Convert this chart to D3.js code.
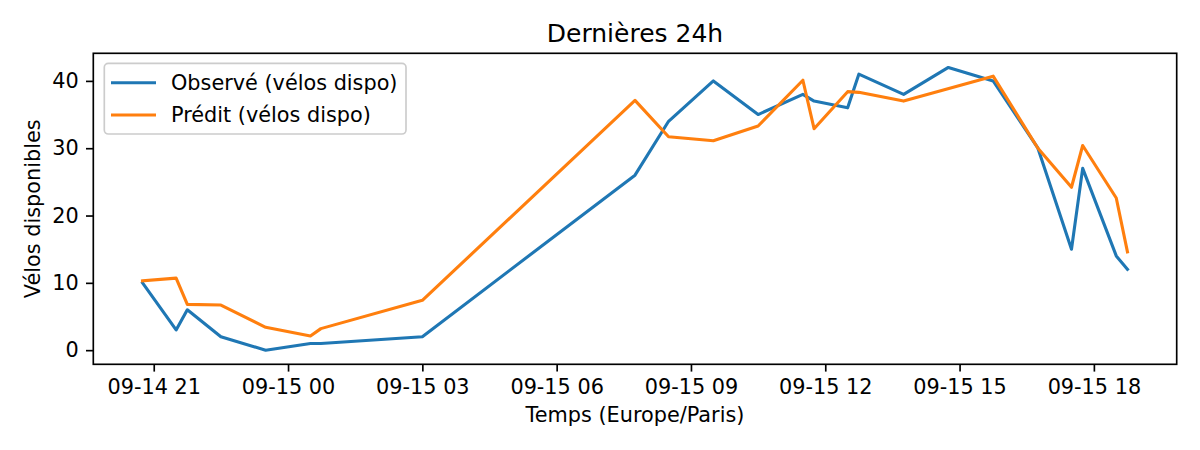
<!DOCTYPE html>
<html>
<head>
<meta charset="utf-8">
<script src="https://cdn.jsdelivr.net/npm/d3@7"></script>
<style>
  body { margin: 0; background: #fff; }
  text { font-family: "DejaVu Sans", sans-serif; fill: #000; }
</style>
</head>
<body>
<svg id="chart" width="1200" height="450"></svg>
<script>
// timestamps (Europe/Paris)
const times = ["2025-09-14 20:45","2025-09-14 21:30","2025-09-14 21:45","2025-09-14 22:30","2025-09-14 23:30",
  "2025-09-15 00:30","2025-09-15 00:44","2025-09-15 03:00","2025-09-15 07:45","2025-09-15 08:30",
  "2025-09-15 09:30","2025-09-15 10:30","2025-09-15 11:30","2025-09-15 11:45","2025-09-15 12:30",
  "2025-09-15 12:45","2025-09-15 13:45","2025-09-15 14:45","2025-09-15 15:45","2025-09-15 16:45",
  "2025-09-15 17:30","2025-09-15 17:45","2025-09-15 18:30","2025-09-15 18:45"];
const observed  = [10, 3, 6, 2, 0, 1, 1, 2, 26, 34, 40, 35, 38, 37, 36, 41, 38, 42, 40, 30, 15, 27, 14, 12];
const predicted = [10.3, 10.7, 6.8, 6.7, 3.4, 2.1, 3.2, 7.4, 37.1, 31.7, 31.1, 33.3, 40.1, 32.9, 38.4, 38.3, 37.0, null, 40.7, 30.0, 24.2, 30.4, 22.6, 14.6];
const seriesNames = ["Observé (vélos dispo)", "Prédit (vélos dispo)"];
const yTicks = [0, 10, 20, 30, 40];

const parse = d3.utcParse("%Y-%m-%d %H:%M");
const dates = times.map(parse);

const W = 1200, H = 450;
const m = { left: 93.3, right: 1176.7, top: 53.3, bottom: 364.3 };
const fs = 20.8, tick = 7.3;
const colors = ["#1f77b4", "#ff7f0e"];

const svg = d3.select("#chart");

// matplotlib-like 5% margins
const tExt = d3.extent(dates);
const tPad = (tExt[1] - tExt[0]) * 0.05;
const x = d3.scaleUtc()
  .domain([new Date(+tExt[0] - tPad), new Date(+tExt[1] + tPad)])
  .range([m.left, m.right]);

const allVals = observed.concat(predicted.filter(v => v != null));
const vExt = d3.extent(allVals);
const vPad = (vExt[1] - vExt[0]) * 0.05;
const y = d3.scaleLinear()
  .domain([vExt[0] - vPad, vExt[1] + vPad])
  .range([m.bottom, m.top]);

const series = [observed, predicted].map(vals =>
  vals.map((v, i) => ({ t: dates[i], v })).filter(d => d.v != null));

const line = d3.line().x(d => x(d.t)).y(d => y(d.v));

svg.append("g")
  .selectAll("path")
  .data(series)
  .join("path")
  .attr("fill", "none")
  .attr("stroke", (d, i) => colors[i])
  .attr("stroke-width", 3.1)
  .attr("stroke-linejoin", "round")
  .attr("stroke-linecap", "square")
  .attr("d", line);

// axes
const xTicks = d3.utcHour.every(3).range(parse("2025-09-14 21:00"), parse("2025-09-15 19:00"));
const xAxis = svg.append("g")
  .attr("transform", `translate(0,${m.bottom})`)
  .call(d3.axisBottom(x).tickValues(xTicks).tickFormat(d3.utcFormat("%m-%d %H"))
    .tickSize(tick).tickPadding(tick));
const yAxis = svg.append("g")
  .attr("transform", `translate(${m.left},0)`)
  .call(d3.axisLeft(y).tickValues(yTicks).tickSize(tick).tickPadding(tick));

[xAxis, yAxis].forEach(g => {
  g.select(".domain").remove();
  g.selectAll(".tick line").attr("stroke", "#000").attr("stroke-width", 1.67);
  g.selectAll(".tick text").attr("font-size", fs).attr("font-family", "DejaVu Sans").attr("fill", "#000");
});

// frame
svg.append("rect")
  .attr("x", m.left).attr("y", m.top)
  .attr("width", m.right - m.left).attr("height", m.bottom - m.top)
  .attr("fill", "none").attr("stroke", "#000").attr("stroke-width", 1.67);

// title and labels
svg.append("text")
  .attr("x", (m.left + m.right) / 2).attr("y", 41.7)
  .attr("text-anchor", "middle").attr("font-size", 25)
  .text("Dernières 24h");
svg.append("text")
  .attr("x", (m.left + m.right) / 2).attr("y", 421.5)
  .attr("text-anchor", "middle").attr("font-size", fs)
  .text("Temps (Europe/Paris)");
svg.append("text")
  .attr("transform", `translate(40,${(m.top + m.bottom) / 2}) rotate(-90)`)
  .attr("text-anchor", "middle").attr("font-size", fs)
  .text("Vélos disponibles");

// legend
const lg = svg.append("g");
lg.append("rect")
  .attr("x", 104.3).attr("y", 63.3).attr("width", 301.7).attr("height", 70.7)
  .attr("rx", 4).attr("fill", "#fff").attr("fill-opacity", 0.8)
  .attr("stroke", "#cccccc").attr("stroke-width", 1.67);
const entries = lg.selectAll("g.entry")
  .data(seriesNames)
  .join("g")
  .attr("transform", (d, i) => `translate(0,${82.7 + i * 32.3})`);
entries.append("line")
  .attr("x1", 111).attr("x2", 156)
  .attr("stroke", (d, i) => colors[i]).attr("stroke-width", 3.1);
entries.append("text")
  .attr("x", 171).attr("dy", "0.35em").attr("font-size", fs)
  .text(d => d);
</script>
</body>
</html>
